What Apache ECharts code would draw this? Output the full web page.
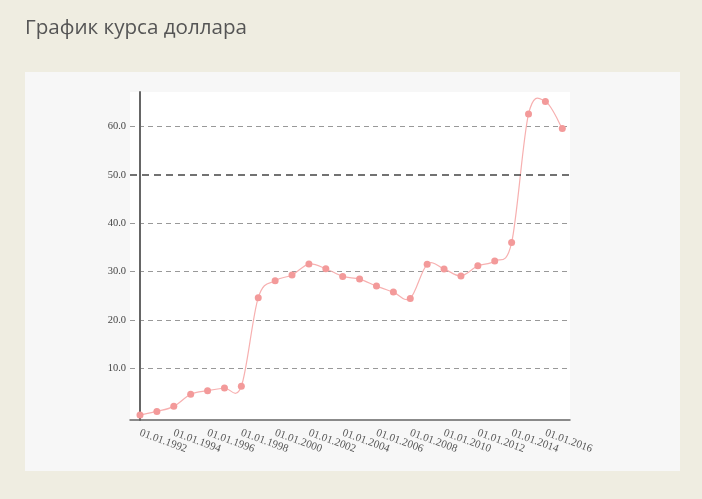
<!DOCTYPE html>
<html>
<head>
<meta charset="utf-8">
<script src="https://cdn.jsdelivr.net/npm/echarts@6/dist/echarts.min.js"></script>
<style>
html,body{margin:0;padding:0;background:#efede1;}
#chart{width:702px;height:499px;}
</style>
</head>
<body>
<div id="chart"></div>
<script>
// Data
const years = [1992,1993,1994,1995,1996,1997,1998,1999,2000,2001,2002,2003,2004,2005,2006,2007,2008,2009,2010,2011,2012,2013,2014,2015,2016,2017];
const rates = [0.3,1.05,2.1,4.6,5.35,5.9,6.25,24.6,28.1,29.3,31.55,30.6,29.0,28.45,27.0,25.75,24.45,31.5,30.55,29.1,31.2,32.2,36.0,62.6,65.2,59.6];
const yTicks = [10,20,30,40,50,60];
const titleText = 'График курса доллара';
const refLine = 50;

const chart = echarts.init(document.getElementById('chart'));
const seriesData = years.map((y,i)=>[y, rates[i]]);
const segmentData = seriesData.slice(0, -1);
const yMax = 67.18;

// Cardinal (Catmull-Rom) spline segment between point i and i+1, via the axis scales
function renderSegment(params, api) {
  const i = params.dataIndex;
  const n = seriesData.length;
  const P = (k) => api.coord(seriesData[Math.max(0, Math.min(n - 1, k))]);
  const p0 = P(i - 1), p1 = P(i), p2 = P(i + 1), p3 = P(i + 2);
  const k = 1 / 6;
  return {
    type: 'bezierCurve',
    shape: {
      x1: p1[0], y1: p1[1], x2: p2[0], y2: p2[1],
      cpx1: p1[0] + (p2[0] - p0[0]) * k, cpy1: p1[1] + (p2[1] - p0[1]) * k,
      cpx2: p2[0] - (p3[0] - p1[0]) * k, cpy2: p2[1] - (p3[1] - p1[1]) * k
    },
    style: { stroke: '#f7b0b0', lineWidth: 1.2, fill: 'none' },
    silent: true
  };
}

chart.setOption({
  animation:false,
  backgroundColor:'#efede1',
  title:{
    text:titleText, left:25, top:18, padding:0,
    textStyle:{fontFamily:'Open Sans', fontSize:20.6, fontWeight:'normal', color:'#555'}
  },
  graphic:[{
    type:'rect', left:25, top:72, z:-10,
    shape:{width:655, height:399},
    style:{fill:'#f7f7f7'}
  }],
  grid:[
    {left:130, right:132, top:92, bottom:79, show:true, backgroundColor:'#fff', borderWidth:0},
    {left:130, right:132, top:92, bottom:82.5},
    {left:140, right:139.7, top:92, bottom:82.5}
  ],
  xAxis:[
    {gridIndex:0, type:'value', min:0, max:1,
     axisLine:{show:true, onZero:false, lineStyle:{color:'#666', width:1.5}},
     axisTick:{show:false}, axisLabel:{show:false}, splitLine:{show:false}},
    {gridIndex:1, type:'value', min:0, max:1, show:false},
    {gridIndex:2, type:'value', min:1992, max:2017, interval:2,
     axisLine:{show:false}, axisTick:{show:false}, splitLine:{show:false},
     axisLabel:{show:true, rotate:-20, margin:16, showMaxLabel:false,
       fontFamily:'Liberation Serif', fontSize:11, color:'#555',
       formatter:(v)=>'01.01.'+v}}
  ],
  yAxis:[
    {gridIndex:0, type:'value', min:0, max:1, offset:-10,
     axisLine:{show:true, onZero:false, lineStyle:{color:'#666', width:2}},
     axisTick:{show:false}, axisLabel:{show:false}, splitLine:{show:false}},
    {gridIndex:1, type:'value', min:0, max:yMax, interval:10,
     axisLine:{show:false}, axisTick:{show:false},
     axisLabel:{show:true, margin:4, showMinLabel:false, showMaxLabel:false,
       fontFamily:'Liberation Serif', fontSize:10.5, color:'#444',
       formatter:(v)=> yTicks.indexOf(v)>=0 ? v.toFixed(1) : ''},
     splitLine:{show:true, lineStyle:{
       color:['rgba(0,0,0,0)','#999','#999','#999','#999','rgba(0,0,0,0)','#999'],
       type:[5,4], width:1}}},
    {gridIndex:2, type:'value', min:0, max:yMax, show:false}
  ],
  series:[
    {type:'line', xAxisIndex:1, yAxisIndex:1, data:[], silent:true,
     markLine:{silent:true, symbol:['none','none'], label:{show:false},
       lineStyle:{color:'#444', type:[7,5], width:1.5},
       data:[{yAxis:refLine}]}},
    {type:'custom', xAxisIndex:2, yAxisIndex:2, data:segmentData,
     renderItem:renderSegment, clip:false, z:2, silent:true},
    {type:'line', xAxisIndex:2, yAxisIndex:2, data:seriesData, z:3,
     symbol:'circle', symbolSize:7,
     itemStyle:{color:'#f39a9a', borderWidth:0},
     lineStyle:{width:0, opacity:0}}
  ]
});
</script>
</body>
</html>
